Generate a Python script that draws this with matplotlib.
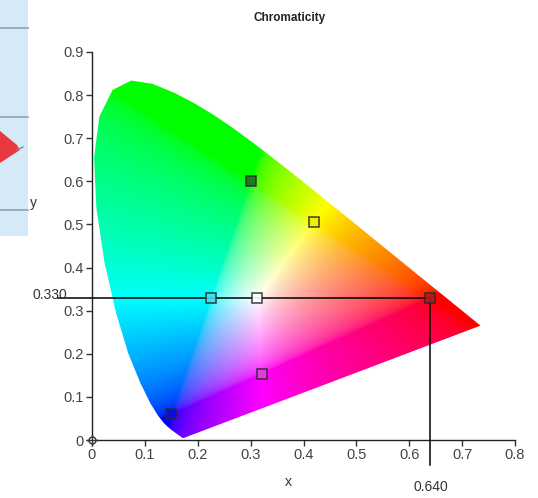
import numpy as np
import matplotlib
matplotlib.use("Agg")
import matplotlib.pyplot as plt
from matplotlib.patches import Polygon, Rectangle

plt.rcParams['font.family'] = ['Liberation Sans', 'DejaVu Sans']

# CIE 1931 spectral locus (x, y), 380..700 nm
locus_x = [0.1741, 0.1738, 0.1733, 0.1726, 0.1714, 0.1703, 0.1689, 0.1669, 0.1644,
           0.1611, 0.1566, 0.1510, 0.1440, 0.1355, 0.1241, 0.1096, 0.0913, 0.0687,
           0.0454, 0.0235, 0.0082, 0.0039, 0.0139, 0.0389, 0.0743, 0.1142, 0.1547,
           0.1929, 0.2296, 0.2658, 0.3016, 0.3373, 0.3731, 0.4087, 0.4441, 0.4788,
           0.5125, 0.5448, 0.5752, 0.6029, 0.6270, 0.6482, 0.6658, 0.6801, 0.6915,
           0.7006, 0.7079, 0.7140, 0.7190, 0.7230, 0.7260, 0.7300, 0.7320, 0.7347]
locus_y = [0.0050, 0.0049, 0.0048, 0.0048, 0.0051, 0.0058, 0.0069, 0.0086, 0.0109,
           0.0138, 0.0177, 0.0227, 0.0297, 0.0399, 0.0578, 0.0868, 0.1327, 0.2007,
           0.2950, 0.4127, 0.5384, 0.6548, 0.7502, 0.8120, 0.8338, 0.8262, 0.8059,
           0.7816, 0.7543, 0.7243, 0.6923, 0.6589, 0.6245, 0.5896, 0.5547, 0.5202,
           0.4866, 0.4544, 0.4242, 0.3965, 0.3725, 0.3514, 0.3340, 0.3197, 0.3083,
           0.2993, 0.2920, 0.2859, 0.2809, 0.2770, 0.2740, 0.2700, 0.2680, 0.2653]

# points shown on the diagram
pt_x = [0.300, 0.419, 0.225, 0.3127, 0.640, 0.321, 0.150]
pt_y = [0.600, 0.505, 0.329, 0.3290, 0.330, 0.154, 0.060]
pt_face = ['#236b23', '#f0f000', '#40e0f0', '#ffffff', '#b01c1c', '#e040e0', '#0a10d8']

cross_x = 0.640
cross_y = 0.330

xticks = [0, 0.1, 0.2, 0.3, 0.4, 0.5, 0.6, 0.7, 0.8]
yticks = [0, 0.1, 0.2, 0.3, 0.4, 0.5, 0.6, 0.7, 0.8, 0.9]

W, H = 538, 498
fig = plt.figure(figsize=(W / 100, H / 100), dpi=100)
fig.patch.set_facecolor('white')

# overlapping window in the top-left corner of the screenshot
fig.patches.append(Rectangle((0, 1 - 236 / H), 28 / W, 236 / H, transform=fig.transFigure,
                             facecolor='#d6e9f7', edgecolor='none', zorder=0))
for py in [28, 117, 210]:
    fig.add_artist(plt.Line2D([0, 28 / W], [1 - py / H, 1 - py / H], transform=fig.transFigure,
                              color='#8fa3b3', lw=1.2))
wedge = [(0, 131), (17, 145), (20, 150), (0, 163)]
fig.patches.append(Polygon([(px / W, 1 - py / H) for px, py in wedge], transform=fig.transFigure,
                           facecolor='#e8393f', edgecolor='none'))
fig.add_artist(plt.Line2D([17 / W, 23 / W], [1 - 150 / H, 1 - 147 / H], transform=fig.transFigure,
                          color='#7d8c99', lw=1))

ax = fig.add_axes([92 / W, 58 / H, (515 - 92) / W, (440 - 52) / H])
ax.set_xlim(0, 0.8)
ax.set_ylim(0, 0.9)

# colour fill of the horseshoe
gx, gy = np.meshgrid(np.linspace(0, 0.8, 500), np.linspace(0.001, 0.9, 560))
X = gx / gy
Z = (1 - gx - gy) / gy
M = np.array([[3.2406, -1.5372, -0.4986],
              [-0.9689, 1.8758, 0.0415],
              [0.0557, -0.2040, 1.0570]])
rgb = np.stack([X, np.ones_like(X), Z], axis=-1) @ M.T
rgb = np.clip(rgb, 0, None)
rgb = rgb / rgb.max(axis=-1, keepdims=True)
rgb = np.where(rgb <= 0.0031308, 12.92 * rgb, 1.055 * np.power(rgb, 1 / 2.4) - 0.055)
rgb = np.clip(rgb, 0, 1)

shape = Polygon(np.column_stack([locus_x, locus_y]), closed=True, facecolor='none',
                edgecolor='none', transform=ax.transData)
ax.add_patch(shape)
im = ax.imshow(rgb, origin='lower', extent=[0, 0.8, 0.001, 0.9], aspect='auto',
               interpolation='bilinear', zorder=1)
im.set_clip_path(shape)

# cross lines for the selected point
ax.plot([-0.065, cross_x], [cross_y, cross_y], color='black', lw=1.1, clip_on=False, zorder=3)
ax.plot([cross_x, cross_x], [cross_y, -0.058], color='black', lw=1.1, clip_on=False, zorder=3)
ax.text(-0.113, cross_y + 0.006, '%.3f' % cross_y, ha='left', va='center', fontsize=10,
        color='#333333')
ax.text(cross_x, -0.109, '%.3f' % cross_x, ha='center', va='center', fontsize=10,
        color='#333333')

for x, y, fc in zip(pt_x, pt_y, pt_face):
    ax.plot(x, y, marker='s', ms=6.5, mfc=fc, mec='#2a2a2a', mew=1.1, alpha=0.9,
            ls='none', zorder=4, clip_on=False)

ax.plot(0, 0, marker='o', ms=5, mfc='white', mec='#333333', mew=1, clip_on=False, zorder=5)
ax.plot(0, 0, marker='+', ms=8, mec='#333333', mew=1, clip_on=False, zorder=5)

for side in ['top', 'right']:
    ax.spines[side].set_visible(False)
for side in ['left', 'bottom']:
    ax.spines[side].set_color('#222222')
    ax.spines[side].set_linewidth(1)
ax.set_xticks(xticks)
ax.set_xticklabels(['0' if v == 0 else '%g' % v for v in xticks])
ax.set_yticks(yticks)
ax.set_yticklabels(['0' if v == 0 else '%g' % v for v in yticks])
ax.tick_params(direction='out', length=4, width=1, color='#333333', labelsize=10.5,
               labelcolor='#444444', pad=2)

fig.text(290 / W, 1 - 18 / H, 'Chromaticity', ha='center', va='center', fontsize=8.5,
         fontweight='bold', color='#222222')
fig.text(288 / W, 1 - 482 / H, 'x', ha='center', va='center', fontsize=10, color='#333333')
fig.text(33 / W, 1 - 203 / H, 'y', ha='center', va='center', fontsize=10, color='#333333')

fig.savefig('out.png', dpi=100)
